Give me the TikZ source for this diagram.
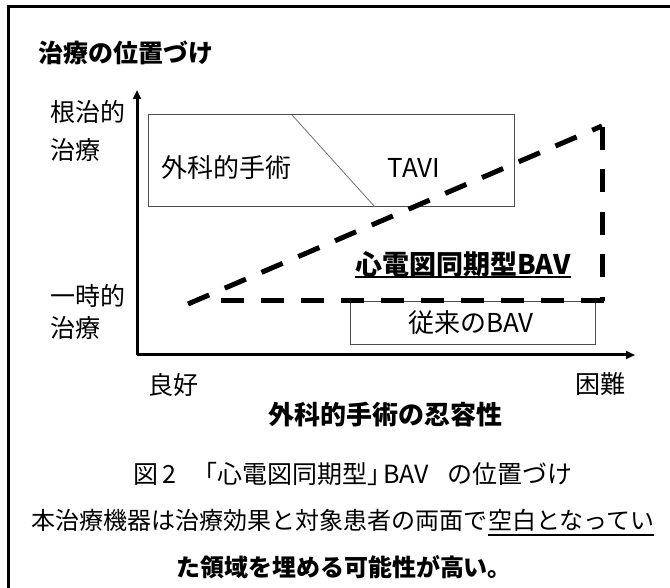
\documentclass[tikz,border=0pt]{standalone}
\usepackage{fontspec}
\setmainfont{Noto Sans CJK JP}
\usetikzlibrary{arrows.meta}
\tikzset{
  lbl/.style={inner sep=0pt, font=\fontsize{25}{30}\selectfont},
  lblb/.style={inner sep=0pt, font=\fontsize{25}{30}\selectfont\bfseries},
  captxt/.style={inner sep=0pt, font=\fontsize{24}{28}\selectfont},
  figtxt/.style={inner sep=0pt, anchor=base west, font=\fontsize{25}{28}\selectfont},
  captxtb/.style={inner sep=0pt, font=\fontsize{24}{28}\selectfont\bfseries},
  bigdash/.style={line width=5pt, dash pattern=on 23pt off 17pt},
  thinbox/.style={draw=black!70, line width=1pt},
  axis/.style={line width=3pt, -{Triangle[length=9pt,width=8pt]}}
}
\begin{document}
\begin{tikzpicture}[x=1pt,y=-1pt]
\useasboundingbox (0,0) rectangle (670,588);
\fill[white] (0,0) rectangle (670,588);
% frame
\draw[line width=3pt] (8,7) rectangle (690,610);
% title
\node[lblb] (title) at (125.5,53) {治療の位置づけ};
% boxes
\draw[thinbox] (148,115) rectangle (514,207);
\coordinate (dtop) at (292,115);
\coordinate (dbot) at (375,207);
\draw[draw=black!55, line width=0.8pt] (dtop) -- (dbot);
\draw[thinbox] (350,302) rectangle (595,345);
% axes
\coordinate (org) at (137,355);
\coordinate (ytip) at (137,90);
\coordinate (xtip) at (635,355);
\draw[axis] (org) -- (ytip);
\draw[axis] (org) -- (xtip);
% dashed lines
\coordinate (ds) at (188,304);
\coordinate (dc) at (602,126);
\coordinate (vt) at (602,127);
\coordinate (vb) at (602,301);
\coordinate (dr) at (604,301);
\coordinate (dl) at (220,301);
\draw[bigdash] (ds) -- (dc);
\draw[line width=5pt, dash pattern=on 23pt off 19.5pt] (vt) -- (vb);
\draw[bigdash] (dr) -- (dl);
% labels
\node[lbl, anchor=west] (y1a) at (50,112) {根治的};
\node[lbl, anchor=west] (y1b) at (50,150) {治療};
\node[lbl, anchor=west] (y2a) at (50,296) {一時的};
\node[lbl, anchor=west] (y2b) at (50,328) {治療};
\node[lbl, anchor=west, font=\fontsize{26}{30}\selectfont] (geka) at (161,168) {外科的手術};
\node[lbl, font=\fontsize{26}{30}\selectfont] (tavi) at (414,168) {TAVI};
\node[inner sep=0pt, anchor=west, font=\fontsize{27}{30}\selectfont\bfseries] (ecg) at (355,264) {心電図同期型BAV};
\draw[line width=2pt] (ecg.west |- 0,277) -- (ecg.east |- 0,277);
\node[lbl, font=\fontsize{26}{30}\selectfont] (conv) at (471,323) {従来のBAV};
\node[lbl, anchor=west] (good) at (148,385) {良好};
\node[lbl, anchor=west] (hard) at (575,384) {困難};
\node[lblb, font=\fontsize{26}{30}\selectfont\bfseries] (xlab) at (385.5,415) {外科的手術の忍容性};
% caption
\node[figtxt] (f1) at (133,483.5) {図};
\node[figtxt] (f2) at (162,483.5) {2};
\node[figtxt] (f3) at (192,483.5) {「心電図同期型」};
\node[figtxt] (f4) at (383,483.5) {BAV};
\node[figtxt] (f5) at (447,483.5) {の位置づけ};
\node[captxt, anchor=east] (l1a) at (488,520) {本治療機器は治療効果と対象患者の両面で};
\node[captxt, anchor=west] (l1b) at (488,520) {空白となってい};
\draw[line width=2.5pt] (l1b.west |- 0,535) -- (l1b.east |- 0,535);
\node[captxtb] (l2) at (344,567) {た領域を埋める可能性が高い。};
\end{tikzpicture}
\end{document}
